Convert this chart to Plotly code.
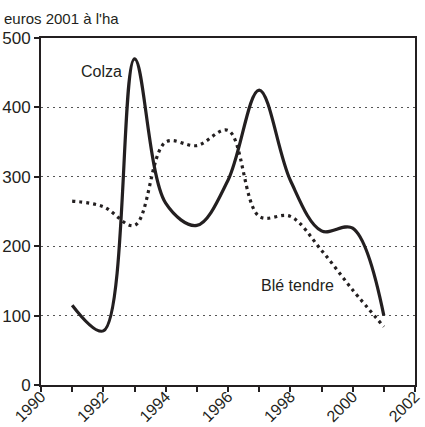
import plotly.graph_objects as go

years = [1991, 1992, 1993, 1994, 1995, 1996, 1997, 1998, 1999, 2000, 2001]
colza = [115, 78, 470, 262, 230, 295, 425, 295, 222, 226, 100]
ble_tendre = [265, 257, 230, 350, 345, 367, 243, 243, 194, 137, 84]

tick_years = list(range(1990, 2003))
tick_labels = [str(y) if y % 2 == 0 else "" for y in tick_years]

font = "Liberation Sans, Arial, sans-serif"
ink = "#231f20"

fig = go.Figure()
fig.add_trace(go.Scatter(x=years, y=colza, mode="lines",
                         line=dict(color=ink, width=3.2, shape="spline", smoothing=1.0),
                         name="Colza", showlegend=False))
fig.add_trace(go.Scatter(x=years, y=ble_tendre, mode="lines",
                         line=dict(color=ink, width=3.2, dash="3px,4px", shape="spline", smoothing=1.0),
                         name="Blé tendre", showlegend=False))

fig.add_annotation(x=1991.95, y=452, text="Colza", showarrow=False,
                   font=dict(family=font, size=16, color=ink))
fig.add_annotation(x=1998.22, y=144, text="Blé tendre", showarrow=False,
                   font=dict(family=font, size=16, color=ink))
fig.add_annotation(x=0, y=1, xref="paper", yref="paper", xanchor="left", yanchor="bottom",
                   text="euros 2001 à l'ha", showarrow=False, xshift=-39, yshift=9,
                   font=dict(family=font, size=15, color=ink))

fig.update_xaxes(range=[1990, 2002], tickmode="array", tickvals=tick_years, ticktext=tick_labels,
                 tickangle=-45, ticks="outside", ticklen=5, tickwidth=1.5, tickcolor=ink,
                 ticklabelstandoff=-11, ticklabeloverflow="allow",
                 showgrid=False, showline=True, linecolor=ink, linewidth=2, mirror=True,
                 zeroline=False, tickfont=dict(family=font, size=16, color=ink))
fig.update_yaxes(range=[0, 500], tickvals=[0, 100, 200, 300, 400, 500],
                 ticks="outside", ticklen=5, tickwidth=1.5, tickcolor=ink,
                 showgrid=True, gridcolor="#555555", griddash="2px,4px", gridwidth=1.3,
                 showline=True, linecolor=ink, linewidth=2, mirror=True,
                 zeroline=False, tickfont=dict(family=font, size=17, color=ink))

fig.update_layout(width=425, height=427, margin=dict(l=39, r=2, t=38, b=42),
                  plot_bgcolor="white", paper_bgcolor="white")

fig.write_html("out.html", config={"displayModeBar": False},
               post_script="document.body.style.margin='0';")
